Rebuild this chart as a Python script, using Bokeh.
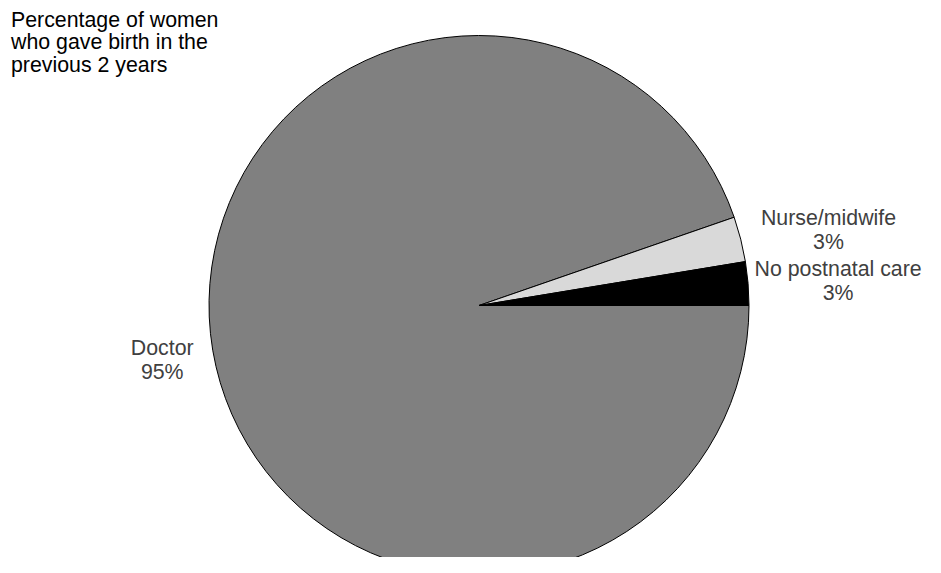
import numpy as np
from bokeh.plotting import figure
from bokeh.models import Range1d, ColumnDataSource
from bokeh.embed import file_html
from bokeh.resources import INLINE
from bokeh.core.properties import value

# ---- data ----
categories = ["Doctor", "Nurse/midwife", "No postnatal care"]
values = [94.7, 2.7, 2.6]
pct_labels = ["95%", "3%", "3%"]
title_lines = ["Percentage of women", "who gave birth in the", "previous 2 years"]

# ---- styles / layout ----
colors = ["#808080", "#d9d9d9", "#000000"]
label_nudge = [(-50.5, -8.8), (87.8, 9.7), (90.0, 3.0)]  # label offsets from slice edge (px)
FONT = "Liberation Sans"
FS = "16pt"
TEXT_SHIFT = 6.5  # baseline correction (px, upward)

W, H = 925, 557
p = figure(width=W, height=H, output_backend="svg", toolbar_location=None,
           x_range=Range1d(0, W), y_range=Range1d(-H, 0),
           min_border=0)
p.axis.visible = False
p.grid.visible = False
p.outline_line_color = None
p.background_fill_color = "white"
p.border_fill_color = "white"

cx, cy, r = 478.5, -305.0, 270.0

# angles: first drawn slice is the last category, starting at 3 o'clock, counter-clockwise
total = float(sum(values))
starts = [0.0] * len(values)
ends = [0.0] * len(values)
a = 0.0
for i in reversed(range(len(values))):
    starts[i] = a
    a += values[i] / total * 2 * np.pi
    ends[i] = a

src = ColumnDataSource(dict(start=starts, end=ends, color=colors, cat=categories))
p.wedge(x=cx, y=cy, radius=r, start_angle="start", end_angle="end",
        fill_color="color", line_color="black", line_width=1, source=src)

# labels
lx, ly1, ly2 = [], [], []
for i in range(len(values)):
    mid = (starts[i] + ends[i]) / 2
    ex = cx + r * np.cos(mid)
    ey = cy + r * np.sin(mid)
    bx = ex + label_nudge[i][0]
    by = ey + label_nudge[i][1] + TEXT_SHIFT
    lx.append(bx)
    ly1.append(by + 5)
    ly2.append(by - 19.5)

lsrc = ColumnDataSource(dict(x=lx, y1=ly1, y2=ly2, name=categories, pct=pct_labels))
p.text(x="x", y="y1", text="name", source=lsrc, text_align="center",
       text_baseline="alphabetic", text_font=value(FONT), text_font_size=FS,
       text_color="#404040")
p.text(x="x", y="y2", text="pct", source=lsrc, text_align="center",
       text_baseline="alphabetic", text_font=value(FONT), text_font_size=FS,
       text_color="#404040")

# title block (top-left)
ty = [-25.7 + TEXT_SHIFT, -48.3 + TEXT_SHIFT, -70.7 + TEXT_SHIFT]
tsrc = ColumnDataSource(dict(x=[10.5] * len(title_lines), y=ty, t=title_lines))
p.text(x="x", y="y", text="t", source=tsrc, text_align="left",
       text_baseline="alphabetic", text_font=value(FONT), text_font_size=FS,
       text_color="#000000")

open("out.html", "w").write(file_html(p, INLINE))
